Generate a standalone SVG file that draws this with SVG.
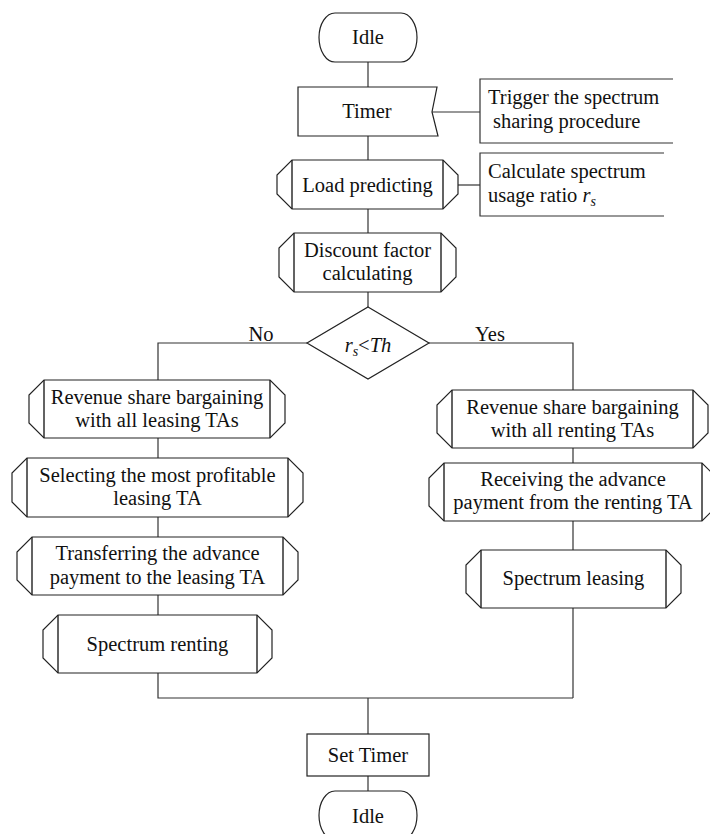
<svg xmlns="http://www.w3.org/2000/svg" width="710" height="834" viewBox="0 0 710 834">
  <style>
    .shape { fill: #ffffff; stroke: #222222; stroke-width: 1.2; }
    .inner { fill: none; stroke: #222222; stroke-width: 1.4; }
    .wire { fill: none; stroke: #333333; stroke-width: 1.2; }
    text { font-family: "Liberation Serif", "Times New Roman", serif; font-size: 20.5px; fill: #111111; }
    .c { text-anchor: middle; }
    .it { font-style: italic; }
  </style>
  <rect x="0" y="0" width="710" height="834" fill="#ffffff"/>

  <!-- connectors -->
  <g id="connectors">
    <path class="wire" d="M368,62 V87"/>
    <path class="wire" d="M432,112 H480"/>
    <path class="wire" d="M368,136 V160"/>
    <path class="wire" d="M458,185 H480"/>
    <path class="wire" d="M368,209 V233"/>
    <path class="wire" d="M368,292 V307"/>
    <path class="wire" d="M307,343 H158 V380"/>
    <path class="wire" d="M429,343 H573 V390"/>
    <path class="wire" d="M158,438 V458"/>
    <path class="wire" d="M158,517 V537"/>
    <path class="wire" d="M158,595 V615"/>
    <path class="wire" d="M158,673 V698 H573"/>
    <path class="wire" d="M573,448 V463"/>
    <path class="wire" d="M573,521 V550"/>
    <path class="wire" d="M573,608 V698"/>
    <path class="wire" d="M368,698 V734"/>
    <path class="wire" d="M368,776 V791"/>
    <text class="c" x="261" y="341">No</text>
    <text class="c" x="490" y="341">Yes</text>
  </g>

  <!-- start terminal -->
  <g id="idle-start">
    <path class="shape" d="M335,13 H401 A16,24.5 0 0 1 401,62 H335 A16,24.5 0 0 1 335,13 Z"/>
    <text class="c" x="368" y="44">Idle</text>
  </g>

  <!-- timer input -->
  <g id="timer">
    <path class="shape" d="M298,87 H437 L432,112 L438,136 H298 Z"/>
    <text class="c" x="367" y="118">Timer</text>
  </g>

  <g id="note-trigger">
    <path class="wire" d="M673,79 H480 V143 H673"/>
    <text x="488" y="104">Trigger the spectrum</text>
    <text x="493" y="128">sharing procedure</text>
  </g>

  <g id="load-predicting">
    <path class="shape" d="M292,160 H443 L458,175 V194 L443,209 H292 L277,194 V175 Z"/>
    <path class="inner" d="M292,160 V209 M443,160 V209"/>
    <text class="c" x="367.5" y="192">Load predicting</text>
  </g>

  <g id="note-ratio">
    <path class="wire" d="M664,153 H480 V216 H664"/>
    <text x="488" y="178">Calculate spectrum</text>
    <text x="488" y="202">usage ratio <tspan class="it">r</tspan><tspan class="it" font-size="14px" dy="4">s</tspan></text>
  </g>

  <g id="discount-factor">
    <path class="shape" d="M294,233 H441 L456,248 V277 L441,292 H294 L279,277 V248 Z"/>
    <path class="inner" d="M294,233 V292 M441,233 V292"/>
    <text class="c" x="367.5" y="257">Discount factor</text>
    <text class="c" x="367.5" y="280">calculating</text>
  </g>

  <g id="decision">
    <path class="shape" d="M368,307 L429,343 L368,379 L307,343 Z"/>
    <text class="c" x="368" y="352"><tspan class="it">r</tspan><tspan class="it" font-size="14px" dy="4">s</tspan><tspan dy="-4">&lt;</tspan><tspan class="it">Th</tspan></text>
  </g>

  <!-- renting branch (No) -->
  <g id="bargain-leasing">
    <path class="shape" d="M44,380 H270 L285,395 V423 L270,438 H44 L29,423 V395 Z"/>
    <path class="inner" d="M44,380 V438 M270,380 V438"/>
    <text class="c" x="157" y="404">Revenue share bargaining</text>
    <text class="c" x="157" y="427">with all leasing TAs</text>
  </g>

  <g id="select-leasing">
    <path class="shape" d="M27,458 H288 L303,473 V502 L288,517 H27 L12,502 V473 Z"/>
    <path class="inner" d="M27,458 V517 M288,458 V517"/>
    <text class="c" x="157.5" y="482">Selecting the most profitable</text>
    <text class="c" x="157.5" y="505">leasing TA</text>
  </g>

  <g id="transfer-payment">
    <path class="shape" d="M32,537 H283 L298,552 V580 L283,595 H32 L17,580 V552 Z"/>
    <path class="inner" d="M32,537 V595 M283,537 V595"/>
    <text class="c" x="157.5" y="560">Transferring the advance</text>
    <text class="c" x="157.5" y="584">payment to the leasing TA</text>
  </g>

  <g id="spectrum-renting">
    <path class="shape" d="M58,615 H257 L272,630 V658 L257,673 H58 L43,658 V630 Z"/>
    <path class="inner" d="M58,615 V673 M257,615 V673"/>
    <text class="c" x="157.5" y="651">Spectrum renting</text>
  </g>

  <!-- leasing branch (Yes) -->
  <g id="bargain-renting">
    <path class="shape" d="M452,390 H693 L708,405 V433 L693,448 H452 L437,433 V405 Z"/>
    <path class="inner" d="M452,390 V448 M693,390 V448"/>
    <text class="c" x="572.5" y="414">Revenue share bargaining</text>
    <text class="c" x="572.5" y="437">with all renting TAs</text>
  </g>

  <g id="receive-payment">
    <path class="shape" d="M444,463 H702 L717,478 V506 L702,521 H444 L429,506 V478 Z"/>
    <path class="inner" d="M444,463 V521 M702,463 V521"/>
    <text class="c" x="573" y="486">Receiving the advance</text>
    <text class="c" x="573" y="509">payment from the renting TA</text>
  </g>

  <g id="spectrum-leasing">
    <path class="shape" d="M481,550 H666 L681,565 V593 L666,608 H481 L466,593 V565 Z"/>
    <path class="inner" d="M481,550 V608 M666,550 V608"/>
    <text class="c" x="573.5" y="585">Spectrum leasing</text>
  </g>

  <g id="set-timer">
    <rect class="shape" x="307" y="734" width="122" height="42"/>
    <text class="c" x="368" y="762">Set Timer</text>
  </g>

  <!-- end terminal -->
  <g id="idle-end">
    <path class="shape" d="M335,791 H401 A16,24.5 0 0 1 401,840 H335 A16,24.5 0 0 1 335,791 Z"/>
    <text class="c" x="368" y="823">Idle</text>
  </g>
</svg>
